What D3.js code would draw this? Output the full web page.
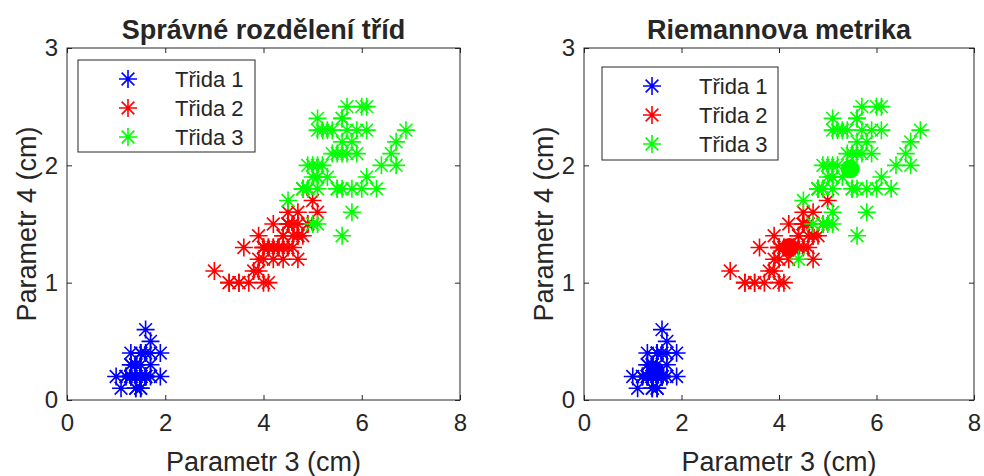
<!DOCTYPE html>
<html>
<head>
<meta charset="utf-8">
<script src="https://cdn.jsdelivr.net/npm/d3@7"></script>
<style>
  body { margin: 0; background: #fff; }
  svg text { font-family: "Liberation Sans", Arial, sans-serif; fill: #262626; }
</style>
</head>
<body>
<div id="canvas"></div>
<script>
// Iris - petal length / petal width (cm)
var trida1 = [[1.4,0.2],[1.4,0.2],[1.3,0.2],[1.5,0.2],[1.4,0.2],[1.7,0.4],[1.4,0.3],[1.5,0.2],[1.4,0.2],[1.5,0.1],
  [1.5,0.2],[1.6,0.2],[1.4,0.1],[1.1,0.1],[1.2,0.2],[1.5,0.4],[1.3,0.4],[1.4,0.3],[1.7,0.3],[1.5,0.3],
  [1.7,0.2],[1.5,0.4],[1.0,0.2],[1.7,0.5],[1.9,0.2],[1.6,0.2],[1.6,0.4],[1.5,0.2],[1.4,0.2],[1.6,0.2],
  [1.6,0.2],[1.5,0.4],[1.5,0.1],[1.4,0.2],[1.5,0.2],[1.2,0.2],[1.3,0.2],[1.4,0.1],[1.3,0.2],[1.5,0.2],
  [1.3,0.3],[1.3,0.3],[1.3,0.2],[1.6,0.6],[1.9,0.4],[1.4,0.3],[1.6,0.2],[1.4,0.2],[1.5,0.2],[1.4,0.2]];

var trida2 = [[4.7,1.4],[4.5,1.5],[4.9,1.5],[4.0,1.3],[4.6,1.5],[4.5,1.3],[4.7,1.6],[3.3,1.0],[4.6,1.3],[3.9,1.4],
  [3.5,1.0],[4.2,1.5],[4.0,1.0],[4.7,1.4],[3.6,1.3],[4.4,1.4],[4.5,1.5],[4.1,1.0],[4.5,1.5],[3.9,1.1],
  [4.8,1.8],[4.0,1.3],[4.9,1.5],[4.7,1.2],[4.3,1.3],[4.4,1.4],[4.8,1.4],[5.0,1.7],[4.5,1.5],[3.5,1.0],
  [3.8,1.1],[3.7,1.0],[3.9,1.2],[5.1,1.6],[4.5,1.5],[4.5,1.6],[4.7,1.5],[4.4,1.3],[4.1,1.3],[4.0,1.3],
  [4.4,1.2],[4.6,1.4],[4.0,1.2],[3.3,1.0],[4.2,1.3],[4.2,1.2],[4.2,1.3],[4.3,1.3],[3.0,1.1],[4.1,1.3]];

var trida3 = [[6.0,2.5],[5.1,1.9],[5.9,2.1],[5.6,1.8],[5.8,2.2],[6.6,2.1],[4.5,1.7],[6.3,1.8],[5.8,1.8],[6.1,2.5],
  [5.1,2.0],[5.3,1.9],[5.5,2.1],[5.0,2.0],[5.1,2.4],[5.3,2.3],[5.5,1.8],[6.7,2.2],[6.9,2.3],[5.0,1.5],
  [5.7,2.3],[4.9,2.0],[6.7,2.0],[4.9,1.8],[5.7,2.1],[6.0,1.8],[4.8,1.8],[4.9,1.8],[5.6,2.1],[5.8,1.6],
  [6.1,1.9],[6.4,2.0],[5.6,2.2],[5.1,1.5],[5.6,1.4],[6.1,2.3],[5.6,2.4],[5.5,1.8],[4.8,1.8],[5.4,2.1],
  [5.6,2.4],[5.1,2.3],[5.1,1.9],[5.9,2.3],[5.7,2.5],[5.2,2.3],[5.0,1.9],[5.2,2.0],[5.4,2.3],[5.1,1.8]];

// body ze tridy 2, ktere Riemannova metrika zaradila do tridy 3
var riemannPresun23 = [[4.4,1.2],[4.7,1.5],[4.9,1.5],[5.1,1.6]];
// stredy trid (velke body v pravem grafu)
var riemannStredy = [[1.46,0.25],[4.21,1.30],[5.46,1.97]];

var tridaNazvy = ["Třida 1", "Třida 2", "Třida 3"];
var tridaBarvy = ["#0000ff", "#ff0000", "#00ff00"];
var xTicks = [0, 2, 4, 6, 8];
var yTicks = [0, 1, 2, 3];

// rozdeleni podle Riemannovy metriky
var riemann2 = trida2.slice();
var riemann3 = trida3.slice();
riemannPresun23.forEach(function(p) {
  for (var i = 0; i < riemann2.length; i++) {
    if (riemann2[i][0] === p[0] && riemann2[i][1] === p[1]) {
      riemann3.push(riemann2.splice(i, 1)[0]);
      break;
    }
  }
});

var width = 984, height = 476;
var svg = d3.select("#canvas").append("svg")
  .attr("width", width)
  .attr("height", height);
svg.append("rect").attr("width", width).attr("height", height).attr("fill", "#fff");

// hvezdicka jako v matlabu ('*')
var hvezdicka = {
  draw: function(ctx, size) {
    var r = Math.sqrt(size), d = r / Math.SQRT2;
    ctx.moveTo(-r, 0); ctx.lineTo(r, 0);
    ctx.moveTo(0, -r); ctx.lineTo(0, r);
    ctx.moveTo(-d, -d); ctx.lineTo(d, d);
    ctx.moveTo(-d, d); ctx.lineTo(d, -d);
  }
};
var symbolPath = d3.symbol().type(hvezdicka).size(81)();

function drawPanel(opts) {
  var x = d3.scaleLinear().domain([0, 8]).range([opts.left, opts.right]);
  var y = d3.scaleLinear().domain([0, 3]).range([opts.bottom, opts.top]);
  var g = svg.append("g");

  g.append("rect")
    .attr("x", opts.left).attr("y", opts.top)
    .attr("width", opts.right - opts.left).attr("height", opts.bottom - opts.top)
    .attr("fill", "#fff");

  // osy (ticky dovnitr)
  var fmt = d3.format("d");
  var ax = [
    [d3.axisBottom(x).tickValues(xTicks).tickFormat(fmt).tickSize(-5).tickSizeOuter(0).tickPadding(14), opts.bottom, true],
    [d3.axisTop(x).tickValues(xTicks).tickSize(-5).tickSizeOuter(0).tickFormat(""), opts.top, true],
    [d3.axisLeft(y).tickValues(yTicks).tickFormat(fmt).tickSize(-5).tickSizeOuter(0).tickPadding(9), opts.left, false],
    [d3.axisRight(y).tickValues(yTicks).tickSize(-5).tickSizeOuter(0).tickFormat(""), opts.right, false]
  ];
  ax.forEach(function(a) {
    var ag = g.append("g")
      .attr("transform", a[2] ? "translate(0," + a[1] + ")" : "translate(" + a[1] + ",0)")
      .call(a[0]);
    ag.select(".domain").remove();
    ag.selectAll("line").attr("stroke", "#262626");
    ag.selectAll("text").attr("font-size", 24).attr("fill", "#262626")
      .style("font-family", "'Liberation Sans', Arial, sans-serif");
  });

  // data
  opts.groups.forEach(function(pts, i) {
    g.append("g").selectAll("path")
      .data(pts)
      .enter()
      .append("path")
      .attr("d", symbolPath)
      .attr("transform", function(d) { return "translate(" + x(d[0]) + "," + y(d[1]) + ")"; })
      .attr("fill", "none")
      .attr("stroke", tridaBarvy[i])
      .attr("stroke-width", 1.6);
  });

  if (opts.stredy) {
    g.append("g").selectAll("circle")
      .data(opts.stredy)
      .enter()
      .append("circle")
      .attr("cx", function(d) { return x(d[0]); })
      .attr("cy", function(d) { return y(d[1]); })
      .attr("r", 9.5)
      .attr("fill", function(d, i) { return tridaBarvy[i]; });
  }

  // ramecek
  g.append("rect")
    .attr("x", opts.left).attr("y", opts.top)
    .attr("width", opts.right - opts.left).attr("height", opts.bottom - opts.top)
    .attr("fill", "none").attr("stroke", "#262626").attr("stroke-width", 1);

  // titulek a popisky
  g.append("text")
    .attr("x", (opts.left + opts.right) / 2).attr("y", 39)
    .attr("text-anchor", "middle")
    .attr("font-size", 27).attr("font-weight", "bold")
    .attr("fill", "#000")
    .text(opts.title);
  g.append("text")
    .attr("x", (opts.left + opts.right) / 2).attr("y", 471)
    .attr("text-anchor", "middle")
    .attr("font-size", 27)
    .text("Parametr 3 (cm)");
  g.append("text")
    .attr("transform", "translate(" + opts.ylabelX + "," + (opts.top + opts.bottom) / 2 + ") rotate(-90)")
    .attr("text-anchor", "middle")
    .attr("font-size", 27)
    .text("Parametr 4 (cm)");

  // legenda
  var lg = g.append("g");
  lg.append("rect")
    .attr("x", opts.legend.x).attr("y", opts.legend.y)
    .attr("width", opts.legend.w).attr("height", opts.legend.h)
    .attr("fill", "#fff").attr("stroke", "#262626").attr("stroke-width", 1);
  tridaNazvy.forEach(function(name, i) {
    var ry = opts.legend.y + 19 + i * 29;
    lg.append("path")
      .attr("d", symbolPath)
      .attr("transform", "translate(" + (opts.legend.x + 50) + "," + ry + ")")
      .attr("fill", "none").attr("stroke", tridaBarvy[i]).attr("stroke-width", 1.6);
    lg.append("text")
      .attr("x", opts.legend.x + 97).attr("y", ry).attr("dy", "0.35em")
      .attr("font-size", 22).attr("fill", "#000")
      .text(name);
  });
}

drawPanel({
  left: 67, right: 460, top: 48, bottom: 400,
  title: "Správné rozdělení tříd",
  ylabelX: 36,
  groups: [trida1, trida2, trida3],
  legend: { x: 78, y: 60, w: 177, h: 92 }
});

drawPanel({
  left: 584, right: 974, top: 48, bottom: 400,
  title: "Riemannova metrika",
  ylabelX: 553,
  groups: [trida1, riemann2, riemann3],
  stredy: riemannStredy,
  legend: { x: 602, y: 67, w: 176, h: 93 }
});
</script>
</body>
</html>
